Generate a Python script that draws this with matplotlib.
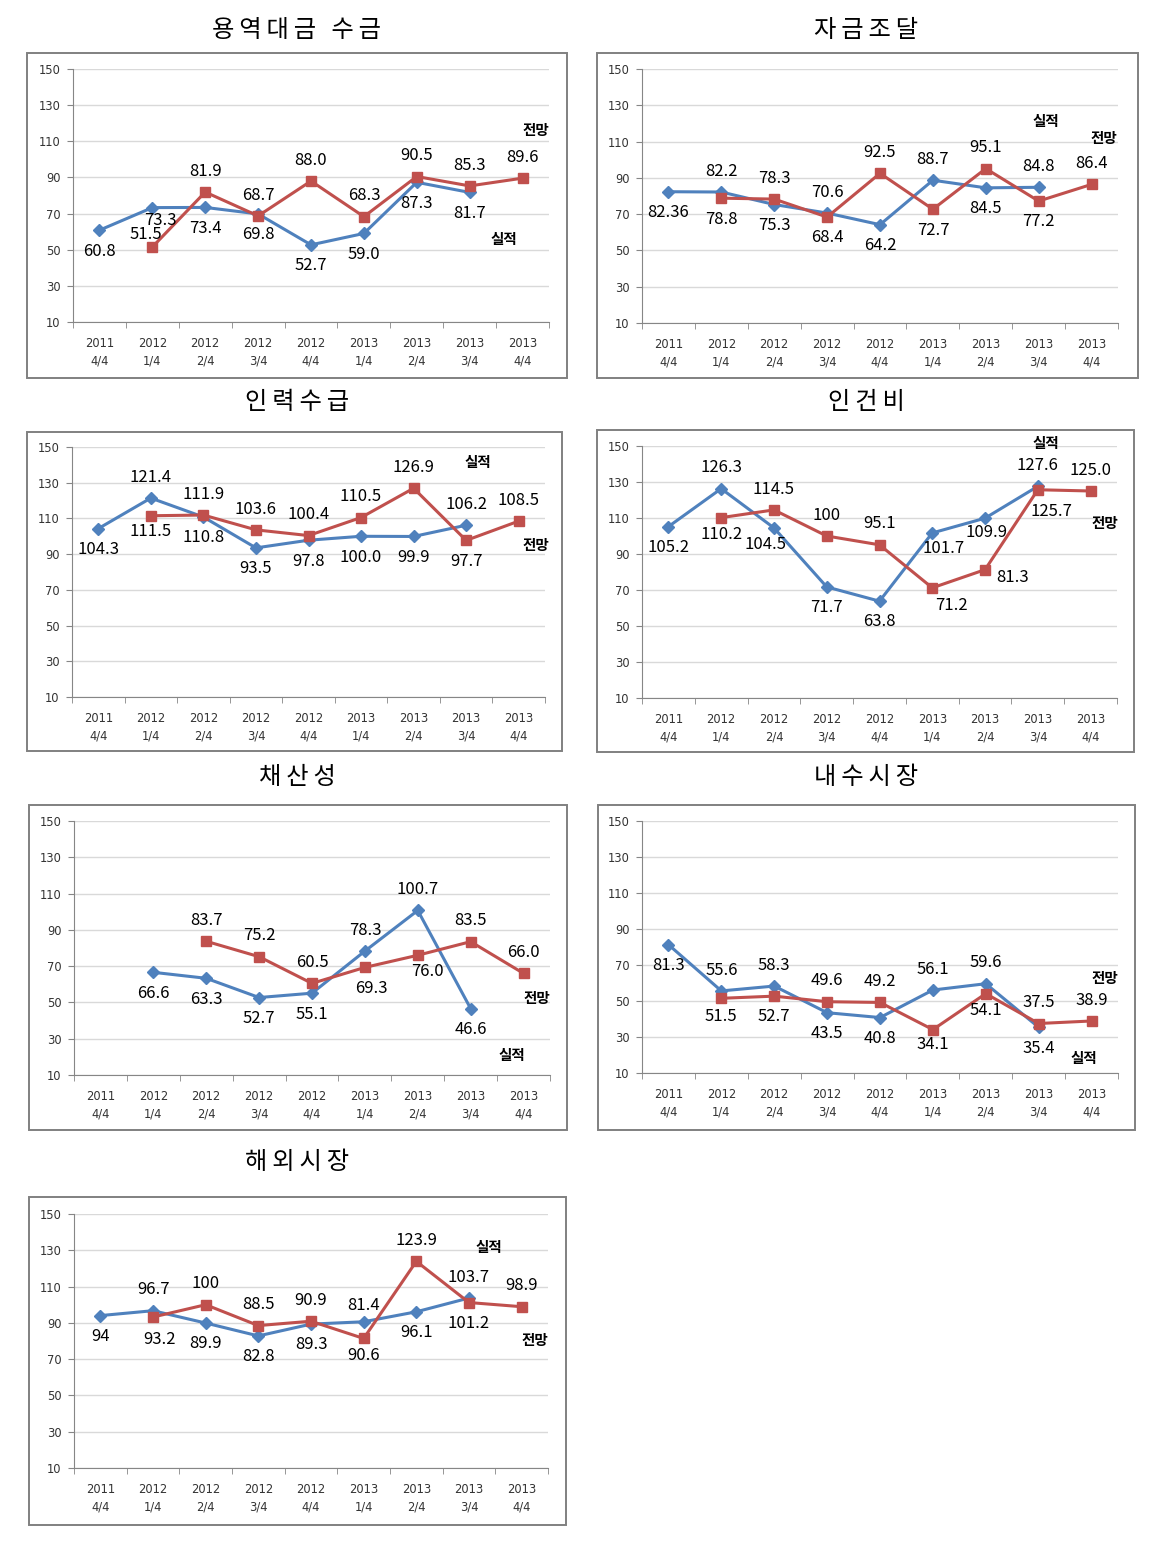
import numpy as np
import matplotlib.pyplot as plt
from matplotlib.patches import Rectangle

nan = np.nan

quarters = ['2011\n4/4', '2012\n1/4', '2012\n2/4', '2012\n3/4', '2012\n4/4',
            '2013\n1/4', '2013\n2/4', '2013\n3/4', '2013\n4/4']

# 실적 (blue) / 전망 (red) for each panel
p1_actual = [60.8, 73.3, 73.4, 69.8, 52.7, 59.0, 87.3, 81.7, nan]
p1_outlook = [nan, 51.5, 81.9, 68.7, 88.0, 68.3, 90.5, 85.3, 89.6]

p2_actual = [82.36, 82.2, 75.3, 70.6, 64.2, 88.7, 84.5, 84.8, nan]
p2_outlook = [nan, 78.8, 78.3, 68.4, 92.5, 72.7, 95.1, 77.2, 86.4]

p3_actual = [104.3, 121.4, 110.8, 93.5, 97.8, 100.0, 99.9, 106.2, nan]
p3_outlook = [nan, 111.5, 111.9, 103.6, 100.4, 110.5, 126.9, 97.7, 108.5]

p4_actual = [105.2, 126.3, 104.5, 71.7, 63.8, 101.7, 109.9, 127.6, nan]
p4_outlook = [nan, 110.2, 114.5, 100, 95.1, 71.2, 81.3, 125.7, 125.0]

p5_actual = [nan, 66.6, 63.3, 52.7, 55.1, 78.3, 100.7, 46.6, nan]
p5_outlook = [nan, nan, 83.7, 75.2, 60.5, 69.3, 76.0, 83.5, 66.0]

p6_actual = [81.3, 55.6, 58.3, 43.5, 40.8, 56.1, 59.6, 35.4, nan]
p6_outlook = [nan, 51.5, 52.7, 49.6, 49.2, 34.1, 54.1, 37.5, 38.9]

p7_actual = [94, 96.7, 89.9, 82.8, 89.3, 90.6, 96.1, 103.7, nan]
p7_outlook = [nan, 93.2, 100, 88.5, 90.9, 81.4, 123.9, 101.2, 98.9]

titles = ['용역대금 수금', '자금조달', '인력수급', '인건비', '채산성', '내수시장', '해외시장']
actuals = [p1_actual, p2_actual, p3_actual, p4_actual, p5_actual, p6_actual, p7_actual]
outlooks = [p1_outlook, p2_outlook, p3_outlook, p4_outlook, p5_outlook, p6_outlook, p7_outlook]

# label placement: 'a' above, 'b' below, or (dx, dy) in points
actual_pos = [
    ['b', (6, -9), 'b', 'b', 'b', 'b', 'b', 'b', 'b'],
    ['b', 'a', 'b', 'a', 'b', 'a', 'b', 'a', 'b'],
    ['b', 'a', 'b', 'b', 'b', 'b', 'b', 'a', 'b'],
    ['b', 'a', (-6, -12), 'b', 'b', (8, -11), (1, -10), 'a', 'b'],
    ['b', 'b', 'b', 'b', 'b', 'a', 'a', 'b', 'b'],
    ['b', 'a', 'a', 'b', 'b', 'a', 'a', 'b', 'b'],
    ['b', 'a', 'b', 'b', 'b', (0, -24), 'b', 'a', 'b'],
]
outlook_pos = [
    ['a', (-5, 9), 'a', 'a', 'a', 'a', 'a', 'a', 'a'],
    ['a', 'b', 'a', 'b', 'a', 'b', 'a', 'b', 'a'],
    ['a', (0, -11), 'a', 'a', 'a', 'a', 'a', 'b', 'a'],
    ['a', (0, -12), 'a', 'a', 'a', (14, -13), (20, -6), (10, -16), 'a'],
    ['a', 'a', 'a', 'a', 'a', (5, -15), (7, -12), 'a', 'a'],
    ['a', (0, -13), 'b', 'a', 'a', (0, -11), (0, -12), 'a', 'a'],
    ['a', (5, -16), 'a', 'a', 'a', (0, 24), 'a', 'b', 'a'],
]

# 실적 / 전망 tag positions (x index, value)
tag_actual = [(7.65, 56), (7.13, 121.3), (7.23, 141.6), (7.15, 151.7), (7.77, 21), (7.85, 18.3), (7.38, 131.8)]
tag_outlook = [(8.25, 116), (8.23, 112), (8.32, 95), (8.27, 107), (8.25, 52.4), (8.25, 62.8), (8.25, 80.5)]

# pixel layout: frame (l, t, r, b), axes (l, t, r, b), title centre (x, y)
frames = [(27, 53, 567, 378), (597, 53, 1138, 378), (27, 432, 562, 751), (597, 430, 1134, 752),
          (29, 805, 567, 1130), (598, 805, 1135, 1130), (29, 1197, 566, 1525)]
axes_px = [(73, 69, 549, 322), (642, 69, 1118, 323), (72, 447, 545, 697), (642, 446, 1117, 698),
           (74, 821, 550, 1075), (642, 821, 1118, 1073), (74, 1214, 548, 1468)]
title_xy = [(297, 30), (866, 30), (297, 402), (866, 402), (297, 777), (866, 777), (297, 1162)]

W, H = 1156, 1551
BLUE = '#4F81BD'
RED = '#C0504D'
GRAY = '#868686'
KR = ['Noto Sans CJK KR', 'DejaVu Sans']

plt.rcParams['font.family'] = ['DejaVu Sans', 'Noto Sans CJK KR']

fig = plt.figure(figsize=(W / 100, H / 100), dpi=100)


def px_rect(l, t, r, b):
    return [l / W, 1 - b / H, (r - l) / W, (b - t) / H]


def offset(p):
    if p == 'a':
        return (0, 15)
    if p == 'b':
        return (0, -15)
    return p


def spaced(s):
    # mimic the wide letter spacing of the original titles
    return '\u2009 \u2009'.join('\u2009'.join(w) for w in s.split(' '))


x = np.arange(len(quarters))
for k in range(len(titles)):
    fl, ft, fr, fb = frames[k]
    fig.add_artist(Rectangle((fl / W, 1 - fb / H), (fr - fl) / W, (fb - ft) / H,
                             transform=fig.transFigure, fill=False, ec='#808080', lw=1.4))
    tx, ty = title_xy[k]
    fig.text(tx / W, 1 - ty / H, spaced(titles[k]), ha='center', va='center',
             fontsize=17.5, family=KR)

    ax = fig.add_axes(px_rect(*axes_px[k]))
    ax.plot(x, actuals[k], color=BLUE, lw=2.2, marker='D', ms=6.5, zorder=3)
    ax.plot(x, outlooks[k], color=RED, lw=2.2, marker='s', ms=7.5, zorder=4)

    ax.set_xlim(-0.5, 8.5)
    ax.set_ylim(10, 150)
    ax.set_yticks(range(10, 151, 20))
    ax.yaxis.grid(True, color='#D9D9D9', lw=1)
    ax.set_axisbelow(True)
    for s in ['top', 'right']:
        ax.spines[s].set_visible(False)
    ax.spines['left'].set_color(GRAY)
    ax.spines['bottom'].set_color(GRAY)
    ax.set_xticks(x)
    ax.set_xticklabels(quarters, fontsize=8.3, color='#333333', linespacing=1.52)
    ax.set_xticks(np.arange(-0.5, 9, 1), minor=True)
    ax.tick_params(axis='x', which='major', length=0, pad=10.5)
    ax.tick_params(axis='x', which='minor', length=4, color=GRAY)
    ax.tick_params(axis='y', length=4, color=GRAY, labelsize=8.3, labelcolor='#333333', pad=5)

    for vals, pos in ((actuals[k], actual_pos[k]), (outlooks[k], outlook_pos[k])):
        for i, v in enumerate(vals):
            if np.isnan(v):
                continue
            ax.annotate(str(v), (i, v), xytext=offset(pos[i]), textcoords='offset points',
                        ha='center', va='center', fontsize=12, family=KR, zorder=5)

    ax.text(*tag_actual[k], '실적', ha='center', va='center', fontsize=10.5,
            fontweight='bold', family=KR, clip_on=False)
    ax.text(*tag_outlook[k], '전망', ha='center', va='center', fontsize=10.5,
            fontweight='bold', family=KR, clip_on=False)

fig.savefig('out.png', dpi=100)
